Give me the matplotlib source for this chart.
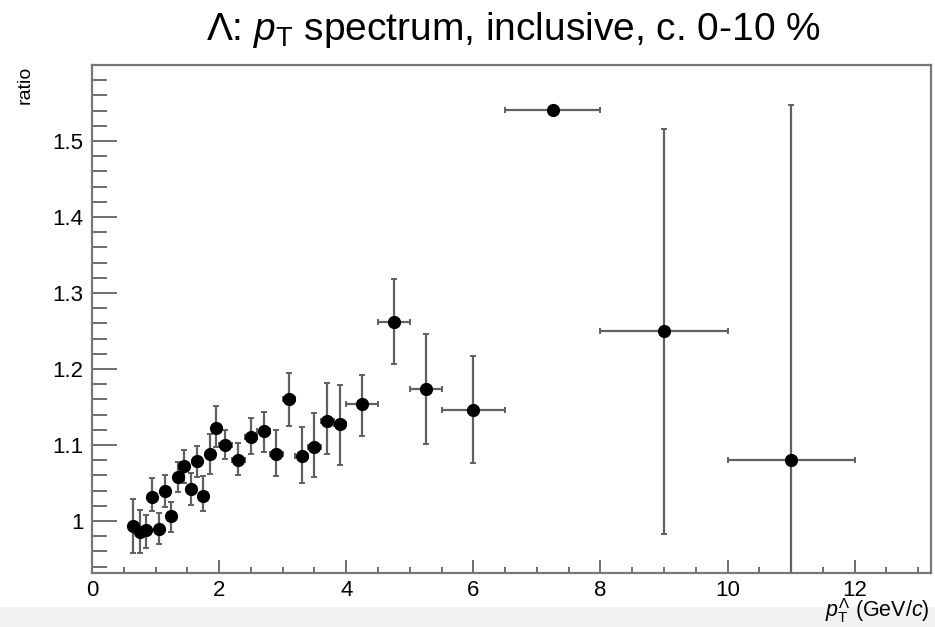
import matplotlib
matplotlib.use("Agg")
import matplotlib.pyplot as plt
from matplotlib.patches import Rectangle
from matplotlib.ticker import MultipleLocator, FixedLocator

plt.rcParams['font.family'] = ['Liberation Sans', 'DejaVu Sans']
plt.rcParams['mathtext.fontset'] = 'custom'
plt.rcParams['mathtext.it'] = 'Liberation Sans:italic'
plt.rcParams['mathtext.rm'] = 'Liberation Sans'

# bin centres and half widths (GeV/c)
pt = [0.65, 0.75, 0.85, 0.95, 1.05, 1.15, 1.25, 1.35, 1.45, 1.55, 1.65, 1.75, 1.85, 1.95,
      2.1, 2.3, 2.5, 2.7, 2.9, 3.1, 3.3, 3.5, 3.7, 3.9,
      4.25, 4.75, 5.25, 6.0, 7.25, 9.0, 11.0]
pt_err = [0.05] * 14 + [0.1] * 10 + [0.25, 0.25, 0.25, 0.5, 0.75, 1.0, 1.0]

ratio = [0.993, 0.986, 0.988, 1.032, 0.990, 1.039, 1.007, 1.058, 1.072, 1.042, 1.079, 1.033, 1.088, 1.123,
         1.100, 1.080, 1.111, 1.118, 1.088, 1.160, 1.086, 1.097, 1.132, 1.128,
         1.154, 1.262, 1.174, 1.146, 1.541, 1.250, 1.080]
err_up = [0.036, 0.028, 0.020, 0.025, 0.020, 0.021, 0.018, 0.020, 0.022, 0.021, 0.020, 0.026, 0.026, 0.028,
          0.020, 0.023, 0.024, 0.025, 0.032, 0.035, 0.038, 0.045, 0.050, 0.051,
          0.038, 0.057, 0.072, 0.071, 0.002, 0.266, 0.467]
err_dn = [0.035, 0.028, 0.023, 0.019, 0.020, 0.021, 0.021, 0.020, 0.022, 0.021, 0.021, 0.020, 0.026, 0.026,
          0.018, 0.020, 0.023, 0.027, 0.029, 0.035, 0.036, 0.039, 0.044, 0.054,
          0.042, 0.055, 0.072, 0.069, 0.002, 0.267, 0.200]

fig = plt.figure(figsize=(9.35, 6.27), dpi=100)
# light grey strip at the bottom of the screenshot
fig.patches.append(Rectangle((0, 0), 1, 0.032, transform=fig.transFigure,
                             facecolor='#f2f2f2', edgecolor='none', zorder=0))

ax = fig.add_axes([0.0984, 0.0861, 0.8973, 0.8102])
ax.errorbar(pt, ratio, xerr=pt_err, yerr=[err_dn, err_up], fmt='o', color='black',
            ecolor='#606060', elinewidth=1.6, capsize=2.5, capthick=1.4,
            markersize=8.5, clip_on=True)

ax.set_xlim(0, 13.2)
ax.set_ylim(0.9316, 1.600)

ax.xaxis.set_major_locator(MultipleLocator(2))
ax.xaxis.set_minor_locator(MultipleLocator(0.5))
ax.yaxis.set_major_locator(FixedLocator([1.0, 1.1, 1.2, 1.3, 1.4, 1.5]))
ax.yaxis.set_minor_locator(MultipleLocator(0.02))
ax.set_yticklabels(['1', '1.1', '1.2', '1.3', '1.4', '1.5'])

ax.tick_params(axis='both', which='both', direction='in', colors='#555555',
               labelcolor='black', labelsize=16, width=1.2)
ax.tick_params(axis='x', which='major', length=9.5, pad=5)
ax.tick_params(axis='x', which='minor', length=4)
ax.tick_params(axis='y', which='major', length=18, pad=6)
ax.tick_params(axis='y', which='minor', length=11)
for s in ax.spines.values():
    s.set_color('#777777')
    s.set_linewidth(1.6)

fig.text(0.549, 0.952, r'$\Lambda$: $p_{\rm T}$ spectrum, inclusive, c. 0-10 %',
         ha='center', va='center', fontsize=28)
fig.text(0.027, 0.895, 'ratio', rotation=90, ha='center', va='top', fontsize=14)
fig.text(0.994, 0.026, r'$p_{\rm T}^{\Lambda}$ (GeV/$c$)', ha='right', va='center', fontsize=15.5)

fig.savefig('out.png', dpi=100)
